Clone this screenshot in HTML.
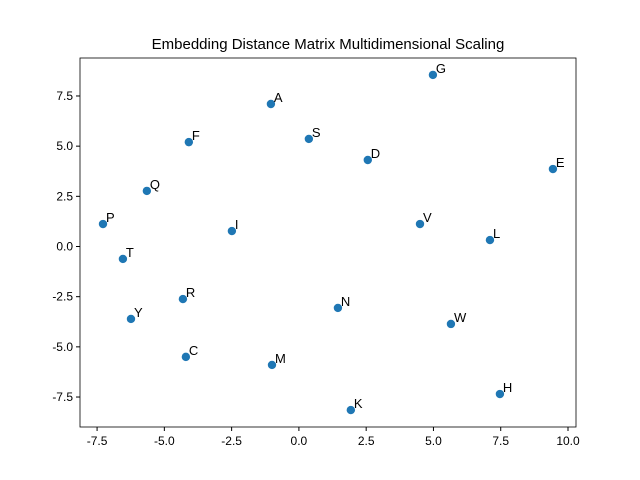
<!DOCTYPE html>
<html><head><meta charset="utf-8"><style>body{margin:0;background:#fff}svg{display:block}text{font-family:"Liberation Sans","DejaVu Sans",sans-serif}</style></head>
<body>
<svg id="chart" width="640" height="480"></svg>
<script>
const labels=["A","G","F","S","D","E","Q","P","I","V","L","T","R","N","W","Y","C","M","H","K"];
const xs=[-1.04,4.98,-4.09,0.37,2.56,9.44,-5.65,-7.28,-2.49,4.5,7.1,-6.54,-4.31,1.45,5.65,-6.24,-4.2,-1.0,7.47,1.93];
const ys=[7.1,8.55,5.2,5.36,4.31,3.86,2.77,1.12,0.77,1.12,0.32,-0.62,-2.62,-3.06,-3.86,-3.61,-5.5,-5.9,-7.35,-8.15];
const xTicks=[-7.5,-5.0,-2.5,0.0,2.5,5.0,7.5,10.0];
const yTicks=[-7.5,-5.0,-2.5,0.0,2.5,5.0,7.5];
const L=80,R=576,T=58,B=427;
const sx=v=>298.9+v*26.91, sy=v=>246.5-v*20.07;
const svg=document.getElementById('chart');const NS="http://www.w3.org/2000/svg";
function mk(t,a,p){const e=document.createElementNS(NS,t);for(const k in a)e.setAttribute(k,a[k]);(p||svg).appendChild(e);return e;}
const title=mk('text',{x:328,y:49,'text-anchor':'middle','font-size':15});title.textContent="Embedding Distance Matrix Multidimensional Scaling";


xTicks.forEach(v=>{const x=sx(v);mk('line',{x1:x,x2:x,y1:B,y2:B+4,stroke:'#000'});const t=mk('text',{x:x,y:B+18,'text-anchor':'middle','font-size':12});t.textContent=v.toFixed(1);

});
yTicks.forEach(v=>{const y=sy(v);mk('line',{x1:L-4,x2:L,y1:y,y2:y,stroke:'#000'});const t=mk('text',{x:L-7,y:y+4,'text-anchor':'end','font-size':12});t.textContent=v.toFixed(1);

});
labels.forEach((lb,i)=>{const x=sx(xs[i]),y=sy(ys[i]);
const c=mk('circle',{cx:x,cy:y,r:4.2,fill:'#1f77b4'});


const t=mk('text',{x:x+3,y:y-2,'font-size':13});t.textContent=lb;

});
const f=mk('rect',{x:L,y:T,width:R-L,height:B-T,fill:'none',stroke:'#000','stroke-width':0.8});


</script>
</body></html>
